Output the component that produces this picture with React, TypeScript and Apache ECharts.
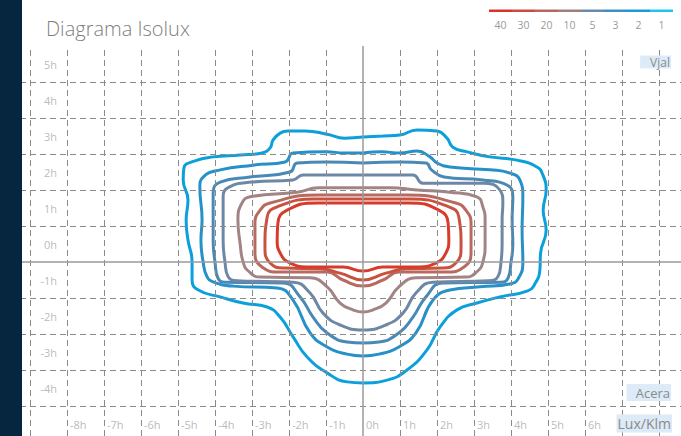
import React, { useEffect, useRef } from "react";
import * as echarts from "echarts";

// ---- data ----
const xTickValues = [-8, -7, -6, -5, -4, -3, -2, -1, 0, 1, 2, 3, 4, 5, 6];
const yTickValues = [5, 4, 3, 2, 1, 0, -1, -2, -3, -4];
const xGridValues = [-9, -8, -7, -6, -5, -4, -3, -2, -1, 1, 2, 3, 4, 5, 6, 7, 8];
const yGridValues = [-4, -3, -2, -1, 1, 2, 3, 4, 5];
const legendLabels = ["40", "30", "20", "10", "5", "3", "2", "1"];
const legendColors = ["#d8342a", "#c84d40", "#b8675d", "#a27d7d", "#6a8aa8", "#3d8fc6", "#1a9ad8", "#1ec6ec"];
const contourLevels = ["1", "2", "3", "5", "10", "20", "30", "40"];
const contourColors = ["#0b9fdb", "#2690c8", "#4989b6", "#6d88a6", "#a38485", "#b96a60", "#c9523f", "#d83a2b"];

const lux1 = [
  [0, 3.47], [0.54, 3.5], [1.0, 3.53], [1.46, 3.67], [2.0, 3.64], [2.27, 3.44], [2.43, 3.19], [2.81, 3.06],
  [3.43, 2.92], [4.16, 2.83], [4.7, 2.64], [4.86, 2.42], [4.95, 2.0], [4.87, 1.44], [4.95, 0.89], [4.8, 0.25],
  [4.78, -0.22], [4.65, -0.6], [4.45, -0.8], [3.7, -0.97], [3.08, -1.14], [2.54, -1.33], [2.08, -1.81],
  [1.73, -2.44], [1.19, -3.0], [0.65, -3.28], [0, -3.36], [-0.43, -3.33], [-0.97, -3.08], [-1.51, -2.64],
  [-1.89, -2.08], [-2.24, -1.53], [-2.59, -1.25], [-3.24, -1.14], [-3.86, -0.97], [-4.45, -0.78],
  [-4.62, -0.5], [-4.62, 0.0], [-4.73, 0.61], [-4.78, 1.17], [-4.73, 1.72], [-4.86, 2.28], [-4.84, 2.61],
  [-4.54, 2.81], [-4.05, 2.92], [-3.32, 2.97], [-2.73, 3.03], [-2.51, 3.17], [-2.43, 3.39], [-2.24, 3.58],
  [-2.03, 3.64], [-1.57, 3.64], [-0.97, 3.55], [-0.5, 3.44], [0, 3.47],
];
const lux2 = [
  [0, 3.03], [0.5, 3.06], [1.0, 3.03], [1.46, 3.08], [1.81, 2.92], [2.0, 2.75], [2.35, 2.64], [3.43, 2.56],
  [3.97, 2.47], [4.24, 2.28], [4.32, 1.81], [4.3, 0.89], [4.32, 0], [4.19, -0.47], [3.97, -0.61],
  [3.16, -0.69], [2.35, -0.78], [1.89, -1.06], [1.43, -1.97], [0.97, -2.36], [0.43, -2.56], [0, -2.61],
  [-0.43, -2.56], [-0.97, -2.36], [-1.43, -1.97], [-1.89, -1.06], [-2.32, -0.72], [-3.51, -0.67],
  [-4.05, -0.55], [-4.22, -0.4], [-4.32, 0], [-4.38, 0.61], [-4.35, 1.17], [-4.41, 2.08], [-4.32, 2.36],
  [-3.86, 2.56], [-2.97, 2.69], [-2.1, 2.78], [-1.89, 3.03], [-1.0, 3.06], [-0.5, 3.03], [0, 3.03],
];
const lux3 = [
  [0, 2.75], [1.0, 2.78], [1.7, 2.75], [1.85, 2.56], [2.19, 2.36], [3.24, 2.28], [3.89, 2.14], [4.05, 1.81],
  [4.03, 1.17], [4.05, 0.5], [4.0, 0], [3.92, -0.45], [3.73, -0.56], [2.16, -0.58], [1.7, -0.97],
  [1.35, -1.53], [0.97, -1.97], [0.43, -2.22], [0, -2.25], [-0.43, -2.22], [-0.97, -1.97], [-1.35, -1.53],
  [-1.7, -0.97], [-2.16, -0.58], [-3.73, -0.56], [-3.92, -0.45], [-4.0, 0], [-4.05, 0.6], [-4.05, 1.17],
  [-4.05, 1.92], [-3.86, 2.22], [-3.05, 2.36], [-1.97, 2.5], [-1.78, 2.75], [-1.0, 2.78], [0, 2.75],
];
const lux5 = [
  [0, 2.42], [1.35, 2.42], [1.62, 2.19], [3.24, 2.19], [3.7, 2.0], [3.78, 1.64], [3.76, 1.17], [3.76, 0.5],
  [3.73, 0], [3.65, -0.4], [3.4, -0.52], [1.89, -0.56], [1.43, -0.86], [1.08, -1.42], [0.62, -1.75],
  [0, -1.89], [-0.62, -1.75], [-1.08, -1.42], [-1.43, -0.86], [-1.89, -0.56], [-3.4, -0.52], [-3.65, -0.4],
  [-3.73, 0], [-3.78, 0.6], [-3.78, 1.17], [-3.78, 1.81], [-3.62, 2.08], [-3.0, 2.22], [-1.89, 2.28],
  [-1.62, 2.42], [0, 2.42],
];
const lux10 = [
  [0, 2.06], [0.73, 2.06], [1.46, 2.0], [2.35, 1.94], [3.08, 1.81], [3.24, 1.53], [3.3, 1.17], [3.3, 0.5],
  [3.24, 0], [3.1, -0.25], [2.78, -0.42], [1.43, -0.44], [0.97, -0.69], [0.62, -1.14], [0.27, -1.33],
  [0, -1.39], [-0.27, -1.33], [-0.62, -1.14], [-0.97, -0.69], [-1.43, -0.44], [-2.78, -0.42], [-3.1, -0.25],
  [-3.24, 0], [-3.32, 0.5], [-3.38, 1.17], [-3.27, 1.64], [-3.05, 1.81], [-1.78, 1.94], [-1.2, 2.06], [0, 2.06],
];
const lux20 = [
  [0, 1.86], [1.2, 1.86], [2.51, 1.64], [2.78, 1.44], [2.92, 1.08], [2.92, 0.25], [2.73, -0.14],
  [2.24, -0.28], [0.97, -0.28], [0.54, -0.5], [0, -0.67], [-0.54, -0.5], [-0.97, -0.28], [-2.24, -0.28],
  [-2.73, -0.14], [-2.92, 0.25], [-2.92, 1.08], [-2.78, 1.44], [-2.51, 1.64], [-1.2, 1.86], [0, 1.86],
];
const lux30 = [
  [0, 1.75], [1.3, 1.75], [2.32, 1.53], [2.59, 1.25], [2.65, 0.42], [2.51, -0.03], [2.11, -0.17],
  [1.16, -0.19], [0.62, -0.31], [0, -0.5], [-0.62, -0.31], [-1.16, -0.19], [-2.11, -0.17], [-2.51, -0.03],
  [-2.65, 0.42], [-2.59, 1.25], [-2.32, 1.53], [-1.3, 1.75], [0, 1.75],
];
const lux40 = [
  [0, 1.64], [1.24, 1.64], [2.05, 1.44], [2.3, 1.08], [2.32, 0.61], [2.24, 0.25], [1.97, -0.03],
  [1.43, -0.14], [0.54, -0.14], [0, -0.25], [-0.54, -0.14], [-1.43, -0.14], [-1.97, -0.03], [-2.24, 0.25],
  [-2.32, 0.61], [-2.3, 1.08], [-2.05, 1.44], [-1.24, 1.64], [0, 1.64],
];
const contours = [lux1, lux2, lux3, lux5, lux10, lux20, lux30, lux40];

// ---- layout constants ----
const W = 681;
const H = 436;
const X0 = 363; // pixel of x = 0
const Y0 = 262; // pixel of y = 0
const PX_X = 37;
const PX_Y = 36;
const GRID_TOP = 46;
const xLabelY = -4.5;
const yLabelX = -8.19;

export default function App() {
  const ref = useRef<HTMLDivElement>(null);
  useEffect(() => {
    if (!ref.current) return;
    const chart = echarts.init(ref.current, null, { renderer: "svg" });
    const font = '"Open Sans", "Noto Sans", sans-serif';
    const dashed = { type: [6, 4] as any, color: "#8a8a8a", width: 1 };
    const solid = { type: "solid" as any, color: "#9a9a9a", width: 1.5 };

    const legendGraphics: any[] = [];
    const segW = 23;
    const legX = 489;
    legendLabels.forEach((l, i) => {
      legendGraphics.push({
        type: "rect",
        shape: { x: legX + segW * i, y: 9.5, width: segW, height: 2.5 },
        style: { fill: legendColors[i] },
      });
      legendGraphics.push({
        type: "text",
        x: legX + segW * i + segW / 2,
        y: 24.5,
        style: { text: l, fill: "#9a9a9a", font: `10.5px ${font}`, align: "center", verticalAlign: "middle" },
      });
    });

    const tagStyle = (text: string, size: number) => ({
      text,
      fill: "#8a8a8a",
      font: `${size}px ${font}`,
      align: "right",
      verticalAlign: "middle",
      backgroundColor: "#dcebf7",
    });

    const option: any = {
      animation: false,
      backgroundColor: "#ffffff",
      grid: { left: 0, right: 0, top: GRID_TOP, bottom: 0 },
      xAxis: { type: "value", min: -X0 / PX_X, max: (W - X0) / PX_X, show: false },
      yAxis: { type: "value", min: -(H - Y0) / PX_Y, max: (Y0 - GRID_TOP) / PX_Y, show: false },
      series: [
        {
          type: "scatter",
          name: "xlabels",
          symbolSize: 0,
          silent: true,
          z: 1,
          data: xTickValues.map((v) => ({ value: [v, xLabelY], name: `${v}h` })),
          label: {
            show: true,
            position: "right",
            distance: 3,
            formatter: "{b}",
            color: "#a8a8a8",
            fontSize: 11,
            fontFamily: font,
          },
          markLine: {
            silent: true,
            symbol: ["none", "none"],
            label: { show: false },
            lineStyle: dashed,
            data: [
              ...xGridValues.map((v) => ({ xAxis: v, lineStyle: dashed })),
              ...yGridValues.map((v) => ({ yAxis: v, lineStyle: dashed })),
              { xAxis: 0, lineStyle: solid },
              { yAxis: 0, lineStyle: solid },
            ],
          },
        },
        {
          type: "scatter",
          name: "ylabels",
          symbolSize: 0,
          silent: true,
          z: 1,
          data: yTickValues.map((v) => ({ value: [yLabelX, v + 0.5], name: `${v}h` })),
          label: {
            show: true,
            position: "left",
            distance: 3,
            formatter: "{b}",
            color: "#a8a8a8",
            fontSize: 11,
            fontFamily: font,
          },
        },
        ...contours.map((c, i) => ({
          type: "line",
          name: contourLevels[i],
          data: c,
          smooth: 0.5,
          symbol: "none",
          showSymbol: false,
          silent: true,
          z: 3,
          lineStyle: { color: contourColors[i], width: 3 },
        })),
      ],
      graphic: [
        { type: "rect", shape: { x: 0, y: 0, width: 22, height: H }, style: { fill: "#06263f" }, z: 100 },
        {
          type: "text",
          x: 46,
          y: 28,
          style: { text: "Diagrama Isolux", fill: "#808080", font: `300 20px ${font}`, verticalAlign: "middle" },
          z: 100,
        },
        ...legendGraphics.map((g) => ({ ...g, z: 100 })),
        { type: "text", x: 671, y: 62, style: { ...tagStyle("Vjal", 12), padding: [1, 1, 0, 10] }, z: 100 },
        { type: "text", x: 671, y: 392.5, style: { ...tagStyle("Acera", 13), padding: [2, 1, 2, 9] }, z: 100 },
        { type: "text", x: 672, y: 423.5, style: { ...tagStyle("Lux/Klm", 14), padding: [2, 1, 2, 1] }, z: 100 },
      ],
    };
    chart.setOption(option);
    return () => chart.dispose();
  }, []);
  return <div ref={ref} style={{ position: "absolute", left: 0, top: 0, width: W, height: H }} />;
}
